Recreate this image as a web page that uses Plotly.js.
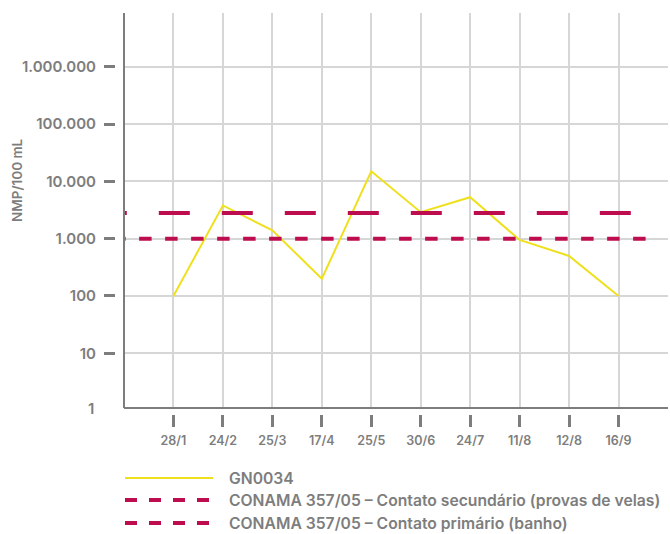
<!DOCTYPE html>
<html>
<head>
<meta charset="utf-8">
<script src="https://cdn.plot.ly/plotly-3.0.1.min.js"></script>
<style>html,body{margin:0;padding:0;background:#fff;}#chart{width:670px;height:534px;}</style>
</head>
<body>
<div id="chart"></div>
<script>
// ---- data ----
const categories = ['28/1','24/2','25/3','17/4','25/5','30/6','24/7','11/8','12/8','16/9'];
const gn0034 = [100, 3800, 1400, 200, 15000, 2900, 5300, 950, 500, 100];
const secondaryLimit = 2800;   // CONAMA 357/05 – contato secundário
const primaryLimit = 1000;     // CONAMA 357/05 – contato primário
const yTickVals = [10, 100, 1000, 10000, 100000, 1000000];
const yTickText = ['10', '100', '1.000', '10.000', '100.000', '1.000.000'];
const seriesNames = ['GN0034', 'CONAMA 357/05 – Contato secundário (provas de velas)', 'CONAMA 357/05 – Contato primário (banho)'];
const yTitle = 'NMP/100 mL';

// ---- style ----
const grey = '#7d7d7d';
const gridGrey = '#d6d6d6';
const crimson = '#be0d4e';
const yellow = '#efe01e';
const fontFam = 'Inter, Liberation Sans, Arial, sans-serif';
const W = 670, H = 534;
const m = {l: 100, r: 2, t: 13, b: 120};
const pw = W - m.l - m.r, ph = H - m.t - m.b;
const px = x => (x - m.l) / pw;
const py = y => (H - m.b - y) / ph;

const xDomStart = px(124);
const yDomStart = py(408);
const yLogRange = [0.045, 6.939];

const traces = [
  {x: categories, y: gn0034, type: 'scatter', mode: 'lines', name: seriesNames[0],
   line: {color: yellow, width: 2}, xaxis: 'x', yaxis: 'y', showlegend: false, hoverinfo: 'skip'},
  {x: [-1.57, 9.78], y: [secondaryLimit, secondaryLimit], type: 'scatter', mode: 'lines', name: seriesNames[1],
   line: {color: crimson, width: 4, dash: '31px,32px'}, xaxis: 'x2', yaxis: 'y', showlegend: false, hoverinfo: 'skip'},
  {x: [-1.22, 9.78], y: [primaryLimit, primaryLimit], type: 'scatter', mode: 'lines', name: seriesNames[2],
   line: {color: crimson, width: 4, dash: '12.5px,13.5px'}, xaxis: 'x2', yaxis: 'y', showlegend: false, hoverinfo: 'skip'}
];

const font = {family: fontFam, size: 15.7, color: grey, weight: 600};
const xFont = {family: fontFam, size: 12.5, color: grey, weight: 600};
const yFont = {family: fontFam, size: 15, color: grey, weight: 600};

// legend (drawn below the plot)
const legRows = [478, 500, 523];
const shapes = [
  // axis lines
  {type: 'line', xref: 'paper', yref: 'paper', x0: xDomStart, x1: xDomStart, y0: yDomStart, y1: 1, line: {color: grey, width: 2}, layer: 'above'},
  {type: 'line', xref: 'paper', yref: 'paper', x0: xDomStart, x1: 1, y0: yDomStart, y1: yDomStart, line: {color: grey, width: 2}, layer: 'above'},
  // legend samples
  {type: 'line', xref: 'paper', yref: 'paper', x0: px(125), x1: px(213), y0: py(legRows[0]), y1: py(legRows[0]), line: {color: yellow, width: 2}},
  {type: 'line', xref: 'paper', yref: 'paper', x0: px(125), x1: px(211), y0: py(legRows[1]), y1: py(legRows[1]), line: {color: crimson, width: 4, dash: '12px,12px'}},
  {type: 'line', xref: 'paper', yref: 'paper', x0: px(125), x1: px(211), y0: py(legRows[2]), y1: py(legRows[2]), line: {color: crimson, width: 4, dash: '12px,12px'}}
];

const annotations = seriesNames.map((n, i) => ({
  text: n, xref: 'paper', yref: 'paper', x: px(227), y: py(legRows[i]), xanchor: 'left', yanchor: 'middle',
  showarrow: false, font: font
}));
annotations.push({text: '1', xref: 'paper', yref: 'paper', x: px(96), y: yDomStart, xanchor: 'right', yanchor: 'middle', showarrow: false, font: yFont});
annotations.push({text: yTitle, xref: 'paper', yref: 'paper', x: px(17), y: py(180), xanchor: 'center', yanchor: 'middle', textangle: -90, showarrow: false, font: {family: fontFam, size: 13.5, color: grey, weight: 600}});

const layout = {
  width: W, height: H,
  margin: m,
  paper_bgcolor: '#fff', plot_bgcolor: '#fff',
  font: font,
  showlegend: false,
  xaxis: {
    type: 'category', categoryorder: 'array', categoryarray: categories,
    range: [-1, 10], domain: [xDomStart, 1], anchor: 'free', position: 0,
    showgrid: true, gridcolor: gridGrey, gridwidth: 2,
    showline: false, zeroline: false,
    ticks: 'outside', ticklen: 12, tickwidth: 3, tickcolor: grey,
    ticklabelstandoff: 3,
    tickfont: xFont, fixedrange: true
  },
  xaxis2: {type: 'linear', range: [-1, 10], overlaying: 'x', visible: false, anchor: 'free', position: 0, fixedrange: true},
  yaxis: {
    type: 'log', range: yLogRange, domain: [yDomStart, 1], anchor: 'free', position: px(115),
    tickvals: yTickVals, ticktext: yTickText,
    showgrid: true, gridcolor: gridGrey, gridwidth: 2,
    showline: false, zeroline: false,
    ticks: 'outside', ticklen: 11, tickwidth: 3, tickcolor: grey,
    ticklabelstandoff: 5,
    tickfont: yFont, fixedrange: true
  },
  shapes: shapes,
  annotations: annotations
};

Plotly.newPlot('chart', traces, layout, {staticPlot: true, displayModeBar: false});
</script>
</body>
</html>
